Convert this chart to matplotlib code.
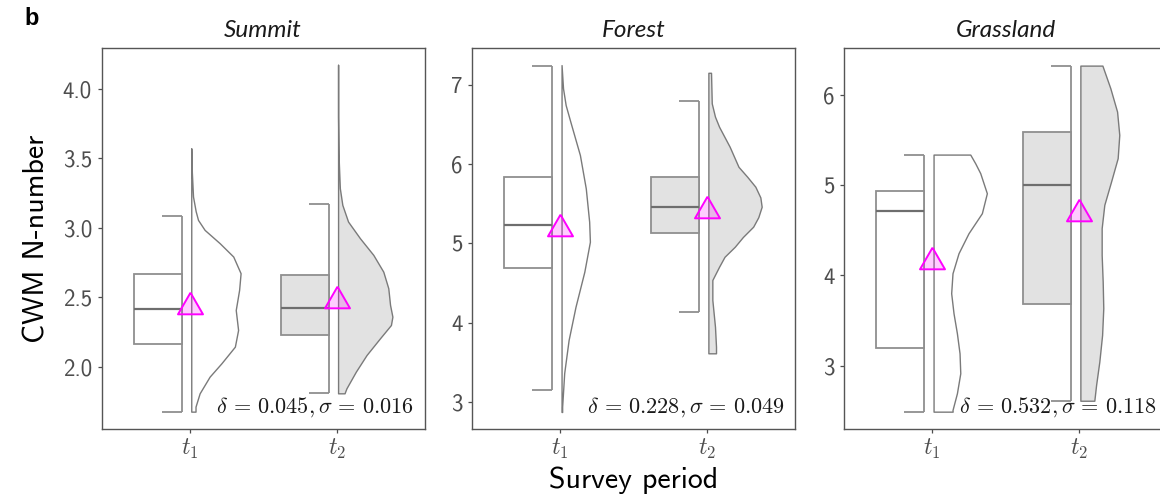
import matplotlib
matplotlib.use("Agg")
import matplotlib.pyplot as plt
from matplotlib.patches import Rectangle

plt.rcParams['font.family'] = ['cmss10', 'DejaVu Sans']
plt.rcParams['mathtext.fontset'] = 'cm'

# ---------------- data ----------------
panels = ["Summit", "Forest", "Grassland"]
periods = ["$t_1$", "$t_2$"]

# box stats: [lower whisker, q1, median, q3, upper whisker]
summit_box_t1 = [1.676, 2.166, 2.414, 2.666, 3.084]
summit_box_t2 = [1.808, 2.226, 2.420, 2.660, 3.173]
forest_box_t1 = [3.144, 4.688, 5.235, 5.834, 7.243]
forest_box_t2 = [4.136, 5.126, 5.454, 5.837, 6.797]
grass_box_t1 = [2.491, 3.193, 4.713, 4.935, 5.337]
grass_box_t2 = [2.612, 3.680, 5.001, 5.585, 6.322]

summit_means = [2.455, 2.50]
forest_means = [5.23, 5.46]
grass_means = [4.19, 4.72]

# half-violin outlines: y values and half-widths (x units)
summit_t1_vy = [3.573, 3.40, 3.225, 3.12, 3.057, 2.985, 2.889, 2.793, 2.673, 2.553,
                2.408, 2.264, 2.144, 2.024, 1.928, 1.808, 1.712, 1.676]
summit_t1_vw = [0.0, 0.004, 0.012, 0.030, 0.046, 0.091, 0.194, 0.286, 0.336, 0.326,
                0.303, 0.319, 0.297, 0.205, 0.125, 0.057, 0.029, 0.029]
summit_t2_vy = [4.174, 3.80, 3.525, 3.285, 3.165, 3.045, 2.925, 2.805, 2.684, 2.565,
                2.445, 2.36, 2.30, 2.205, 2.084, 1.964, 1.844, 1.808]
summit_t2_vw = [0.0, 0.0, 0.003, 0.012, 0.029, 0.068, 0.149, 0.240, 0.308, 0.342,
                0.354, 0.370, 0.360, 0.286, 0.194, 0.121, 0.057, 0.044]

forest_t1_vy = [7.251, 6.957, 6.746, 6.535, 6.115, 5.694, 5.273, 5.020, 4.641, 4.199,
                3.779, 3.362, 2.937, 2.870]
forest_t1_vw = [0.0, 0.010, 0.028, 0.060, 0.125, 0.165, 0.188, 0.193, 0.155, 0.095,
                0.048, 0.018, 0.004, 0.004]
forest_t2_vy = [7.154, 6.768, 6.60, 6.472, 6.220, 5.967, 5.84, 5.715, 5.58, 5.462,
                5.33, 5.210, 5.08, 4.957, 4.83, 4.705, 4.537, 4.285, 3.947, 3.694, 3.611]
forest_t2_vw = [0.018, 0.023, 0.045, 0.073, 0.145, 0.205, 0.265, 0.320, 0.354, 0.363,
                0.340, 0.305, 0.235, 0.180, 0.110, 0.073, 0.027, 0.027, 0.045, 0.052, 0.052]

grass_t1_vy = [5.337, 5.24, 5.131, 4.909, 4.688, 4.466, 4.245, 4.023, 3.802, 3.580,
               3.359, 3.137, 2.916, 2.694, 2.509, 2.491]
grass_t1_vw = [0.25, 0.284, 0.318, 0.363, 0.329, 0.238, 0.170, 0.129, 0.120, 0.136,
               0.159, 0.177, 0.182, 0.159, 0.129, 0.130]
grass_t2_vy = [6.322, 6.072, 5.813, 5.555, 5.297, 5.038, 4.780, 4.522, 4.226, 3.930,
               3.636, 3.340, 3.044, 2.786, 2.612]
grass_t2_vw = [0.150, 0.204, 0.250, 0.265, 0.254, 0.209, 0.163, 0.145, 0.145, 0.152,
               0.156, 0.148, 0.129, 0.107, 0.095]

annotations = [r"$\delta\,=\,0.045, \sigma\,=\,0.016$",
               r"$\delta\,=\,0.228, \sigma\,=\,0.049$",
               r"$\delta\,=\,0.532, \sigma\,=\,0.118$"]

yticks_summit = [2.0, 2.5, 3.0, 3.5, 4.0]
yticks_forest = [3, 4, 5, 6, 7]
yticks_grass = [3, 4, 5, 6]
ytl_summit = ["2.0", "2.5", "3.0", "3.5", "4.0"]
ytl_forest = ["3", "4", "5", "6", "7"]
ytl_grass = ["3", "4", "5", "6"]

# ---------------- style ----------------
W, H = 1160, 497
fig = plt.figure(figsize=(W / 100, H / 100), dpi=100)

box_edge = "#8f8f8f"
med_col = "#6e6e6e"
vio_edge = "#7a7a7a"
fill_grey = "#e2e2e2"
tri = [(0, 0.866), (-1, -0.866), (1, -0.866), (0, 0.866)]

panel_lefts = [101.7, 472.0, 844.0]
ax_w = 323.0
ax_top, ax_bot = 48.0, 429.0
ylims = [(1.551, 4.295), (2.655, 7.467), (2.299, 6.517)]

boxes = [[summit_box_t1, summit_box_t2], [forest_box_t1, forest_box_t2],
         [grass_box_t1, grass_box_t2]]
means = [summit_means, forest_means, grass_means]
violins = [[(summit_t1_vy, summit_t1_vw), (summit_t2_vy, summit_t2_vw)],
           [(forest_t1_vy, forest_t1_vw), (forest_t2_vy, forest_t2_vw)],
           [(grass_t1_vy, grass_t1_vw), (grass_t2_vy, grass_t2_vw)]]
yticks = [yticks_summit, yticks_forest, yticks_grass]
ytls = [ytl_summit, ytl_forest, ytl_grass]
fills = ["white", fill_grey]

for i, name in enumerate(panels):
    ax = fig.add_axes([panel_lefts[i] / W, 1 - ax_bot / H, ax_w / W, (ax_bot - ax_top) / H])
    for j in range(2):
        x = j + 1
        lo, q1, med, q3, hi = boxes[i][j]
        bl, br, cl = x - 0.38, x - 0.052, x - 0.188
        # whisker + caps
        ax.vlines(br, lo, hi, color=box_edge, lw=1.3, zorder=2)
        ax.hlines([lo, hi], cl, br, color=box_edge, lw=1.3, zorder=2)
        ax.add_patch(Rectangle((bl, q1), br - bl, q3 - q1, facecolor=fills[j],
                               edgecolor=box_edge, lw=1.3, zorder=3))
        ax.hlines(med, bl, br, color=med_col, lw=1.6, zorder=4)
        # half violin
        vy, vw = violins[i][j]
        x0 = x + 0.01
        ax.fill_betweenx(vy, [x0] * len(vy), [x0 + w for w in vw], facecolor=fills[j],
                         edgecolor=vio_edge, lw=1.0, zorder=3, joinstyle="round")
        # mean
        ax.plot([x], [means[i][j]], marker=tri, ms=18, mfc=(1, 0, 1, 0.2),
                mec="#ff00ff", mew=1.4, ls="none", zorder=6)
    ax.set_xlim(0.4, 2.6)
    ax.set_ylim(*ylims[i])
    ax.set_xticks([1, 2])
    ax.set_xticklabels(periods, fontsize=17, color="#4d4d4d")
    ax.set_yticks(yticks[i])
    ax.set_yticklabels(ytls[i], fontsize=16.5, color="#4d4d4d")
    ax.tick_params(axis="both", length=3, width=0.9, color="#4d4d4d", pad=4)
    ax.tick_params(axis="x", pad=3)
    for s in ax.spines.values():
        s.set_color("#555555")
        s.set_linewidth(1.0)
    ax.set_title(name, fontsize=17.5, family="Lato", style="italic", color="#1a1a1a", pad=8)
    ax.annotate(annotations[i], xy=(1, 0), xycoords="axes fraction", xytext=(-7.5, 11.5),
                textcoords="offset points", ha="right", va="baseline", fontsize=16,
                color="#1a1a1a", zorder=7)

fig.text(37 / W, 1 - 238.5 / H, "CWM N-number", rotation=90, ha="center", va="center",
         fontsize=21.5, color="black")
fig.text(633.5 / W, 1 - 488 / H, "Survey period", ha="center", va="baseline",
         fontsize=21.5, color="black")
fig.text(24 / W, 1 - 25 / H, "b", family="Liberation Sans", weight="bold", fontsize=17,
         va="baseline", ha="left")

fig.savefig("out.png", dpi=100)
